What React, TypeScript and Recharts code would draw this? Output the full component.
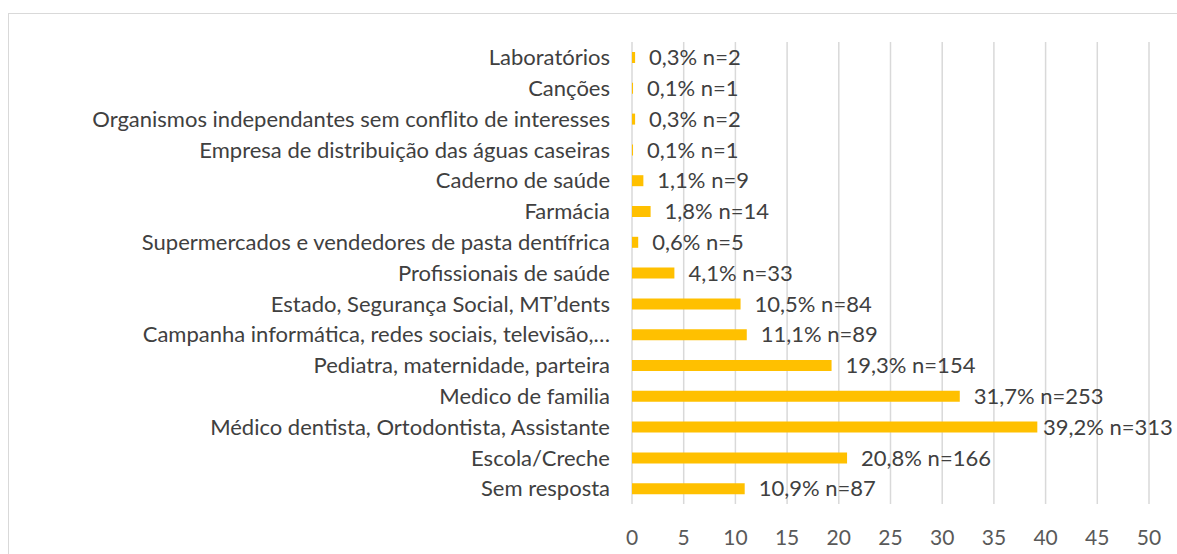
import React from "react";
import {
  BarChart,
  Bar,
  XAxis,
  YAxis,
  CartesianGrid,
  LabelList,
} from "recharts";

const categories = [
  "Laboratórios",
  "Canções",
  "Organismos independantes sem conflito de interesses",
  "Empresa de distribuição das águas caseiras",
  "Caderno de saúde",
  "Farmácia",
  "Supermercados e vendedores de pasta dentífrica",
  "Profissionais de saúde",
  "Estado, Segurança Social, MT’dents",
  "Campanha informática, redes sociais, televisão,…",
  "Pediatra, maternidade, parteira",
  "Medico de familia",
  "Médico dentista, Ortodontista, Assistante",
  "Escola/Creche",
  "Sem resposta",
];

const percentages = [0.3, 0.1, 0.3, 0.1, 1.1, 1.8, 0.6, 4.1, 10.5, 11.1, 19.3, 31.7, 39.2, 20.8, 10.9];
const counts = [2, 1, 2, 1, 9, 14, 5, 33, 84, 89, 154, 253, 313, 166, 87];

const xTicks = [0, 5, 10, 15, 20, 25, 30, 35, 40, 45, 50];

const FONT = "Lato, 'Open Sans', sans-serif";
const BAR_COLOR = "#FFC000";
const CHART_W = 1177;

const chartData = categories.map((name, i) => ({
  name,
  value: percentages[i],
  label: `${percentages[i].toFixed(1).replace(".", ",")}% n=${counts[i]}`,
}));

// label after the bar end, pulled back in when it would run off the right edge
const renderLabel = (props: any) => {
  const { x, y, width, height, value } = props;
  const text = String(value);
  const estW = text.length * 12;
  const lx = Math.min(Number(x) + Number(width) + 14, CHART_W - 2 - estW);
  return (
    <text
      x={lx}
      y={Number(y) + Number(height) / 2}
      dy="0.35em"
      textAnchor="start"
      fill="#404040"
      fontSize={22}
      fontFamily={FONT}
    >
      {text}
    </text>
  );
};

const App: React.FC = () => {
  return (
    <div
      style={{
        position: "fixed",
        left: 0,
        top: 0,
        width: CHART_W,
        height: 554,
        overflow: "hidden",
        background: "#fff",
        fontFamily: FONT,
      }}
    >
      <div
        style={{
          position: "absolute",
          left: 8,
          top: 13,
          width: 1200,
          height: 600,
          border: "1px solid #d9d9d9",
        }}
      />
      <div style={{ position: "absolute", left: 0, top: 0 }}>
        <BarChart
          layout="vertical"
          width={CHART_W}
          height={554}
          data={chartData}
          margin={{ top: 42, right: 28, bottom: 0, left: 0 }}
          barSize={11}
        >
          <CartesianGrid horizontal={false} stroke="#d9d9d9" strokeWidth={1.5} />
          <XAxis
            type="number"
            domain={[0, 50]}
            ticks={xTicks}
            axisLine={false}
            tickLine={false}
            height={50}
            tickMargin={20}
            tick={{ fill: "#595959", fontSize: 21, fontFamily: FONT }}
          />
          <YAxis
            type="category"
            dataKey="name"
            width={632}
            axisLine={false}
            tickLine={false}
            tickMargin={16}
            interval={0}
            tick={{ fill: "#404040", fontSize: 22, fontFamily: FONT }}
          />
          <Bar dataKey="value" fill={BAR_COLOR} isAnimationActive={false}>
            <LabelList dataKey="label" content={renderLabel} />
          </Bar>
        </BarChart>
      </div>
    </div>
  );
};

export default App;
